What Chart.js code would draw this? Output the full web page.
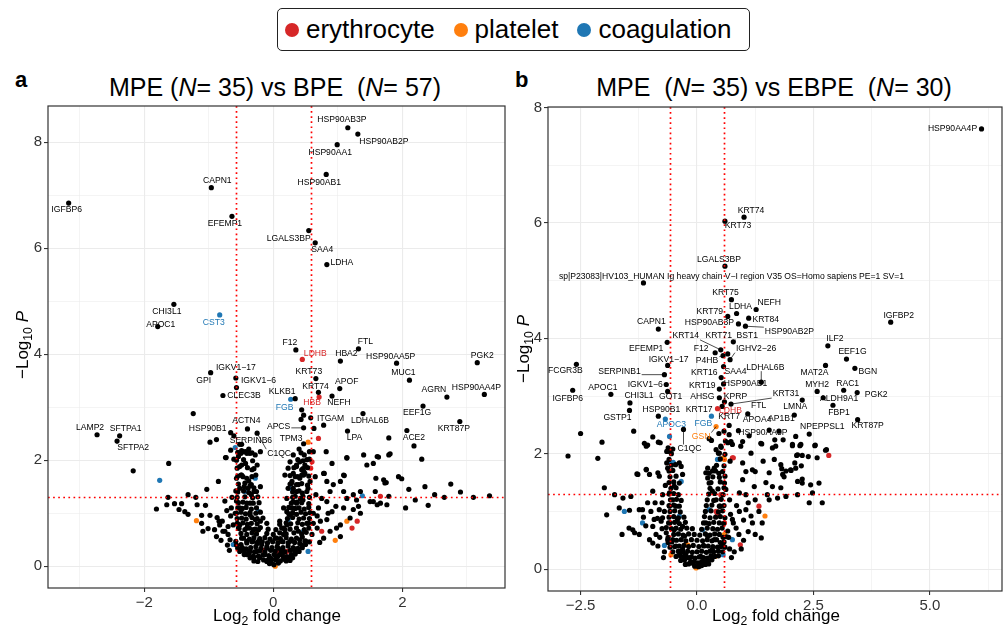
<!DOCTYPE html>
<html>
<head>
<meta charset="utf-8">
<script src="https://cdn.jsdelivr.net/npm/chart.js@4.4.1/dist/chart.umd.min.js"></script>
<style>
  body { margin: 0; background: #fff; width: 1005px; height: 633px; position: relative; overflow: hidden;
         font-family: "Liberation Sans", Arial, Helvetica, sans-serif; color: #000; }
  .panel { position: absolute; }
  .title { position: absolute; top: 75px; font-size: 25px; line-height: 25px; white-space: pre; transform: translateX(-50%); }
  .tag { position: absolute; top: 69px; font-size: 22px; line-height: 22px; font-weight: bold; }
  .xtitle { position: absolute; font-size: 17px; white-space: nowrap; transform: translate(-50%, -50%); }
  .ytitle { position: absolute; font-size: 17px; white-space: nowrap; transform: translate(-50%, -50%) rotate(-90deg); }
  sub { font-size: 0.72em; vertical-align: -0.35em; line-height: 0; }
  #legend { position: absolute; left: 277px; top: 8px; width: 473px; height: 43px; border: 1.5px solid #222;
            border-radius: 5px; display: flex; align-items: center; font-size: 26px; padding-left: 7px; box-sizing: border-box; }
  #legend .dot { width: 14px; height: 14px; border-radius: 50%; margin-right: 7px; }
  #legend .item { display: flex; align-items: center; margin-right: 19px; }
</style>
</head>
<body>
<div id="legend">
  <div class="item"><div class="dot" style="background:#d62728"></div>erythrocyte</div>
  <div class="item"><div class="dot" style="background:#ff7f0e"></div>platelet</div>
  <div class="item"><div class="dot" style="background:#1f77b4"></div>coagulation</div>
</div>

<div class="tag" style="left:15px">a</div>
<div class="tag" style="left:515px">b</div>
<div class="title" style="left:275px">MPE (<i>N</i>= 35) vs BPE  (<i>N</i>= 57)</div>
<div class="title" style="left:774px">MPE  (<i>N</i>= 35) vs EBPE  (<i>N</i>= 30)</div>

<div class="panel" style="left:0;top:95px"><canvas id="volcanoA" width="515" height="538"></canvas></div>
<div class="panel" style="left:500px;top:95px"><canvas id="volcanoB" width="505" height="538"></canvas></div>

<div class="ytitle" style="left:23px;top:345px">−Log<sub>10</sub> <i>P</i></div>
<div class="ytitle" style="left:524px;top:349px">−Log<sub>10</sub> <i>P</i></div>
<div class="xtitle" style="left:277px;top:616px">Log<sub>2</sub> fold change</div>
<div class="xtitle" style="left:776px;top:616px">Log<sub>2</sub> fold change</div>

<script>
// ---- MPE vs BPE ----
const xBreaksA = [-3, -2, -1, 0, 1, 2, 3];
const xLabelsA = ['', '−2', '', '0', '', '2', ''];
const yBreaksA = [0, 1, 2, 3, 4, 5, 6, 7, 8];
const yLabelsA = ['0', '', '2', '', '4', '', '6', '', '8'];

// named proteins: [name, log2FC, -log10 p, group]  (n = none, e = erythrocyte, p = platelet, c = coagulation)
const genesA = [
  ['HSP90AB3P', 1.155, 8.27, 'n'], ['HSP90AB2P', 1.31, 8.15, 'n'], ['HSP90AA1', 0.99, 7.95, 'n'],
  ['HSP90AB1', 0.82, 7.39, 'n'], ['CAPN1', -0.96, 7.14, 'n'], ['IGFBP6', -3.17, 6.85, 'n'],
  ['EFEMP1', -0.64, 6.60, 'n'], ['LGALS3BP', 0.55, 6.33, 'n'], ['SAA4', 0.65, 6.10, 'n'],
  ['LDHA', 0.83, 5.69, 'n'], ['CHI3L1', -1.54, 4.94, 'n'], ['CST3', -0.83, 4.74, 'c'],
  ['APOC1', -1.79, 4.52, 'n'], ['F12', 0.35, 4.08, 'n'], ['FTL', 1.32, 4.10, 'n'],
  ['LDHB', 0.45, 3.90, 'e'], ['HBA2', 1.04, 3.87, 'n'], ['HSP90AA5P', 1.91, 3.83, 'n'],
  ['PGK2', 3.16, 3.84, 'n'], ['GPI', -0.97, 3.65, 'n'], ['IGKV1−17', -0.58, 3.55, 'n'],
  ['KRT73', 0.66, 3.54, 'n'], ['MUC1', 2.11, 3.51, 'n'], ['IGKV1−6', -0.57, 3.37, 'n'],
  ['APOF', 1.03, 3.35, 'n'], ['KRT74', 0.70, 3.28, 'n'], ['HSP90AA4P', 3.27, 3.24, 'n'],
  ['CLEC3B', -0.78, 3.22, 'n'], ['NEFH', 0.91, 3.21, 'n'], ['AGRN', 2.69, 3.19, 'n'],
  ['HBB', 0.71, 3.19, 'e'], ['KLKB1', 0.34, 3.16, 'n'], ['FGB', 0.27, 3.15, 'c'],
  ['EEF1G', 2.32, 3.02, 'n'], ['LDHAL6B', 1.39, 2.88, 'n'], ['KRT87P', 2.89, 2.73, 'n'],
  ['ITGAM', 0.78, 2.66, 'n'], ['APCS', 0.47, 2.61, 'n'], ['ACTN4', -0.40, 2.59, 'n'],
  ['ACE2', 2.07, 2.56, 'n'], ['LPA', 1.15, 2.55, 'n'], ['HSP90B1', -0.66, 2.52, 'n'],
  ['C1QC', -0.25, 2.51, 'n'], ['LAMP2', -2.73, 2.48, 'n'], ['SFTPA1', -2.38, 2.46, 'n'],
  ['SERPINB6', -0.61, 2.46, 'n'], ['SFTPA2', -2.42, 2.36, 'n'], ['TPM3', 0.40, 2.21, 'n']
];

const otherA = [
  [-1.62,1.94],[-1.81,1.08],[-1.63,1.30],[-1.65,1.16],[-1.53,1.18],[-1.42,1.18],[-1.46,1.07],[-1.32,1.35],
  [-1.32,0.98],[-1.37,1.03],[-1.03,1.45],[-1.20,1.30],[-1.18,1.16],[-1.05,1.15],[-1.11,0.96],[-0.85,1.60],
  [-0.98,0.96],[-0.87,0.92],[-0.84,0.85],[-0.73,2.05],[-0.83,0.78],[-1.11,0.81],[-1.09,0.66],[-1.01,0.71],
  [-0.91,0.69],[-0.79,0.85],[-0.88,0.56],[-0.81,0.49],[-0.75,0.66],[-0.70,0.60],[-0.71,0.40],[-0.67,0.50],
  [-0.70,0.75],[-0.75,1.23],[-0.57,1.23],[-0.65,1.10],[-0.59,1.00],[-0.56,0.81],[-0.54,0.72],[-0.62,0.78],
  [-1.24,2.88],[-0.88,2.39],[-0.98,2.34],[-0.66,2.19],[-0.74,2.05],[-2.17,1.80],
  [-0.54,2.07],[-0.52,1.88],[-0.47,2.16],[-0.41,2.13],[-0.36,2.13],[-0.28,2.10],[-0.49,1.72],[-0.41,1.66],
  [-0.52,1.47],[-0.39,1.47],[-0.34,1.35],[-0.26,1.41],[-0.41,1.19],[-0.31,1.19],[-0.52,1.10],[-0.36,0.97],
  [-0.28,0.88],[-0.20,0.85],[-0.52,0.78],[-0.41,0.72],[-0.31,0.69],[-0.23,0.69],[-0.49,0.53],[-0.41,0.47],
  [-0.31,0.47],[-0.23,0.47],[-0.18,0.41],[-0.10,0.34],[-0.13,0.22],[-0.05,0.16],[-0.03,0.06],[-0.36,0.28],
  [-0.26,0.28],[-0.21,0.16],[-0.10,0.09],[-0.41,0.22],[-0.31,0.19],
  [0.05,0.16],[0.10,0.22],[0.08,0.34],[0.13,0.47],[0.16,0.60],[0.18,0.69],[0.21,0.78],[0.26,0.97],
  [0.29,1.10],[0.21,1.03],[0.31,1.22],[0.34,1.32],[0.36,1.41],[0.39,1.54],[0.41,1.66],[0.44,1.72],
  [0.47,1.79],[0.49,1.91],[0.52,2.01],[0.48,2.10],[0.21,1.28],[0.16,1.10],[0.23,1.47],[0.29,1.60],
  [0.31,1.75],[0.36,1.88],[0.41,1.97],[0.23,1.85],[0.18,1.72],[0.10,0.85],[0.05,0.53],[0.13,0.72],
  [0.26,0.47],[0.31,0.34],[0.36,0.28],[0.52,0.81],[0.39,0.66],[0.41,0.50],[0.49,0.47],[0.46,1.25],
  [0.36,1.19],[0.54,1.47],[0.57,1.60],[0.62,2.16],[0.65,1.69],[0.62,1.00],[0.62,0.81],[0.60,0.60],
  [0.78,1.75],[0.91,1.94],[0.83,1.60],[0.93,1.54],[1.04,1.60],[1.09,1.72],[1.14,2.04],[0.88,1.41],
  [1.09,1.41],[1.24,1.35],[1.35,1.41],[1.45,1.91],[1.55,1.94],[1.63,2.06],[1.79,2.10],[1.59,1.66],
  [1.71,1.63],[1.73,1.57],[1.58,1.41],[1.79,1.32],[1.50,1.22],[1.55,1.22],[1.61,1.16],[1.66,1.19],
  [1.76,1.16],[1.32,1.13],[1.35,1.00],[1.24,1.07],[1.29,1.25],[1.19,0.91],[1.04,0.78],[0.88,0.66],
  [0.98,0.72],[1.04,0.56],[0.73,0.85],[0.83,0.88],[0.78,0.53],[0.91,1.03],[1.09,1.10],[1.14,1.28],
  [0.75,1.28],[0.83,1.22],[0.97,1.13],
  [-0.49,2.18],[-0.50,2.13],[-0.38,2.14],[-0.33,2.14],[-0.20,2.16],[-0.49,1.91],[-0.43,1.94],[-0.33,1.82],
  [-0.25,1.91],[-0.47,1.69],[-0.38,1.61],[-0.27,1.72],[-0.45,1.50],[-0.36,1.52],[-0.30,1.48],[-0.20,1.50],
  [-0.57,1.66],[0.44,2.95],[0.47,2.85],[0.43,2.77],[0.58,2.80],[0.63,2.60],[0.31,2.10],[0.26,1.97],
  [0.36,1.91],[0.44,1.82],[0.49,1.75],[0.34,1.69],[0.26,1.55],[0.31,1.47],
  [1.79,2.42],[2.18,2.27],[2.30,2.02],[1.81,2.12],[1.94,1.69],[1.99,1.65],[1.75,1.58],[0.82,2.16],
  [1.14,2.05],[1.40,2.10],[1.61,2.07],[0.79,1.75],[1.10,1.71],[2.10,1.45],[2.35,1.50],[2.50,1.35],
  [2.20,1.25],[2.65,1.30],[2.05,1.10],[2.40,1.15],[2.90,1.40],[3.10,1.30],[3.35,1.33],[2.75,1.55],
  [-0.49,2.30],[-0.38,2.21],[-0.61,2.02],[-0.58,1.42]
];
// dense centre of the cloud
const coreA = [
  [-0.06,0.05],[0.01,0.03],[0.08,0.06],
  [-0.15,0.12],[-0.09,0.11],[-0.02,0.13],[0.04,0.12],[0.11,0.10],[0.17,0.13],
  [-0.23,0.19],[-0.16,0.21],[-0.07,0.20],[0.01,0.22],[0.07,0.19],[0.14,0.21],[0.21,0.18],
  [-0.29,0.27],[-0.21,0.29],[-0.13,0.27],[-0.04,0.30],[0.03,0.28],[0.12,0.29],[0.18,0.27],[0.26,0.30],
  [-0.35,0.35],[-0.27,0.37],[-0.19,0.34],[-0.10,0.37],[-0.02,0.35],[0.06,0.37],[0.15,0.35],[0.23,0.38],[0.31,0.35],
  [-0.41,0.44],[-0.33,0.46],[-0.25,0.43],[-0.17,0.46],[-0.09,0.44],[-0.01,0.46],[0.07,0.44],[0.15,0.46],
  [0.23,0.44],[0.33,0.45],[0.41,0.43],
  [-0.46,0.53],[-0.37,0.51],[-0.30,0.54],[-0.21,0.52],[-0.13,0.54],[-0.05,0.51],[0.03,0.53],[0.11,0.52],
  [0.20,0.54],[0.28,0.51],[0.36,0.53],[0.45,0.55],
  [-0.50,0.62],[-0.41,0.60],[-0.33,0.63],[-0.26,0.61],[-0.10,0.62],[0.00,0.60],[0.10,0.63],[0.20,0.61],
  [0.32,0.63],[0.44,0.61],[0.51,0.64],
  [-0.53,0.71],[-0.44,0.69],[-0.37,0.72],[-0.28,0.70],[-0.20,0.73],[-0.08,0.70],[0.04,0.69],[0.16,0.72],
  [0.26,0.70],[0.36,0.72],[0.48,0.69],[0.55,0.72],
  [-0.55,0.80],[-0.47,0.82],[-0.40,0.79],[-0.34,0.81],[-0.25,0.80],[-0.10,0.81],[0.10,0.79],[0.20,0.82],
  [0.27,0.80],[0.38,0.82],[0.45,0.79],[0.55,0.81],
  [-0.56,0.90],[-0.49,0.91],[-0.42,0.89],[-0.33,0.92],[-0.25,0.90],[-0.16,0.91],[0.22,0.90],[0.30,0.92],
  [0.40,0.89],[0.47,0.91],[0.56,0.90],
  [-0.57,1.00],[-0.50,1.02],[-0.43,0.99],[-0.36,1.01],[-0.27,1.00],[-0.20,1.02],[0.24,0.99],[0.30,1.01],
  [0.36,0.98],[0.43,1.02],[0.50,0.99],[0.57,1.01],
  [-0.55,1.10],[-0.48,1.09],[-0.42,1.11],[-0.34,1.08],[-0.26,1.10],[0.24,1.11],[0.34,1.09],[0.40,1.10],
  [0.48,1.08],[0.55,1.11],
  [-0.54,1.20],[-0.47,1.21],[-0.36,1.19],[-0.22,1.20],[0.28,1.19],[0.37,1.21],[0.44,1.20],[0.55,1.18],
  [-0.56,1.30],[-0.44,1.31],[-0.32,1.29],[-0.24,1.31],[0.30,1.30],[0.42,1.28],[0.46,1.32],[0.56,1.30],
  [-0.55,1.40],[-0.46,1.42],[-0.38,1.39],[-0.30,1.41],[0.30,1.40],[0.40,1.42],[0.45,1.38],[0.52,1.41],
  [-0.54,1.55],[-0.44,1.57],[-0.34,1.54],[0.28,1.56],[0.36,1.54],[0.44,1.56],[0.53,1.53],
  [-0.55,1.70],[-0.50,1.72],[-0.33,1.69],[0.26,1.71],[0.38,1.69],[0.47,1.72],[0.55,1.70],
  [-0.56,1.85],[-0.40,1.86],[-0.30,1.84],[0.32,1.86],[0.46,1.84],[0.53,1.86],
  [-0.57,2.00],[-0.46,2.01],[-0.32,1.99],[0.38,2.01],[0.46,1.99],[0.56,2.02],
  [-0.55,2.15],[-0.43,2.16],[0.43,2.14],[0.56,2.16],
  [-0.52,2.30],[0.47,2.31],
  [-0.66,0.95],[-0.72,1.05],[-0.64,1.30],[-0.68,0.30],[-0.78,0.66],[0.68,0.72],[0.70,1.10],[0.66,1.35],
  [0.72,0.45],[0.85,1.00],[0.68,0.95],
  [-0.30,0.10],[-0.24,0.09],[0.20,0.10],[0.26,0.11],
  [-0.36,0.16],[-0.30,0.17],[0.16,0.16],[0.24,0.17],[0.30,0.16],
  [-0.45,0.22],[-0.38,0.23],[0.28,0.22],[0.34,0.23],
  [-0.52,0.28],[-0.45,0.29],[-0.38,0.28],[0.33,0.29],[0.40,0.28],
  [-0.55,0.34],[-0.48,0.35],[-0.42,0.33],[0.38,0.34],[0.45,0.35],
  [-0.57,0.40],[-0.50,0.41],[0.44,0.40],[0.50,0.41],
  [-0.58,0.47],[0.50,0.48],[0.56,0.46]
];
const eryA = [[0.21,0.28],[0.05,0.28],[0.58,1.85],[0.60,1.97],[1.66,1.32],[1.30,0.85],[1.22,0.72],
  [0.75,0.66],[0.70,2.41],[-0.15,0.30],[0.15,0.20]];
const pltA = [[-1.19,0.86],[-0.26,0.66],[0.03,0.00],[0.10,0.47],[0.54,2.34],[1.14,0.85],[0.96,0.49]];
const coagA = [[-1.76,1.62],[-0.62,0.41],[-0.28,1.66],[-0.44,1.41],[-0.23,1.03],[0.23,0.88],[0.47,0.66],
  [0.54,0.28],[1.38,1.33],[-0.59,2.24],[0.26,1.47]];

// ---- MPE vs EBPE ----
const xBreaksB = [-2.5, -1.25, 0, 1.25, 2.5, 3.75, 5, 6.25];
const xLabelsB = ['−2.5', '', '0.0', '', '2.5', '', '5.0', ''];
const yBreaksB = [0, 1, 2, 3, 4, 5, 6, 7, 8];
const yLabelsB = ['0', '', '2', '', '4', '', '6', '', '8'];

const genesB = [
  ['HSP90AA4P', 6.11, 7.63, 'n'], ['KRT74', 1.01, 6.10, 'n'], ['KRT73', 0.60, 6.03, 'n'],
  ['LGALS3BP', 0.60, 5.25, 'n'],
  ['sp|P23083|HV103_HUMAN Ig heavy chain V−I region V35 OS=Homo sapiens PE=1 SV=1', -1.15, 4.96, 'n'],
  ['KRT75', 0.74, 4.67, 'n'], ['NEFH', 1.27, 4.50, 'n'], ['LDHA', 0.85, 4.43, 'n'],
  ['KRT79', 0.66, 4.38, 'n'], ['KRT84', 1.11, 4.35, 'n'], ['HSP90AB3P', 0.89, 4.25, 'n'],
  ['HSP90AB2P', 1.04, 4.21, 'n'], ['CAPN1', -0.83, 4.16, 'n'], ['EFEMP1', -0.64, 3.93, 'n'],
  ['BST1', 0.78, 3.94, 'n'], ['KRT14', 0.51, 3.80, 'n'], ['F12', 0.39, 3.75, 'n'],
  ['KRT71', 0.66, 3.73, 'n'], ['P4HB', 0.56, 3.70, 'n'], ['IGHV2−26', 0.71, 3.63, 'n'],
  ['FCGR3B', -2.59, 3.55, 'n'], ['IGKV1−17', -0.63, 3.53, 'n'], ['SAA4', 0.57, 3.51, 'n'],
  ['SERPINB1', -0.70, 3.37, 'n'], ['KRT16', 0.52, 3.32, 'n'], ['LDHAL6B', 1.38, 3.24, 'n'],
  ['HSP90AB1', 0.57, 3.21, 'n'], ['IGKV1−6', -0.66, 3.20, 'n'], ['KRT19', 0.48, 3.12, 'n'],
  ['IGFBP6', -2.67, 3.10, 'n'], ['GOT1', -0.63, 3.08, 'n'], ['APOC1', -1.85, 3.03, 'n'],
  ['AHSG', 0.48, 2.97, 'n'], ['KPRP', 0.59, 2.90, 'n'], ['CHI3L1', -1.44, 2.88, 'n'],
  ['KRT31', 0.73, 2.86, 'n'], ['KRT17', 0.54, 2.82, 'n'], ['LDHB', 0.44, 2.78, 'e'],
  ['GSTP1', -1.45, 2.75, 'n'], ['FTL', 1.09, 2.69, 'n'], ['HSP90B1', -0.83, 2.65, 'n'],
  ['FGB', 0.31, 2.65, 'c'], ['APOC3', -0.68, 2.60, 'c'], ['KRT7', 0.69, 2.49, 'n'],
  ['GSN', 0.41, 2.47, 'p'], ['C1QC', -0.29, 2.42, 'n'], ['APOA4', 1.55, 2.41, 'n'],
  ['HSP90AA5P', 1.76, 2.39, 'n'], ['LMNA', 2.26, 2.93, 'n'], ['AP1B1', 2.09, 2.67, 'n'],
  ['NPEPPSL1', 2.41, 2.34, 'n'], ['KRT87P', 3.45, 2.59, 'n'], ['FBP1', 2.92, 2.84, 'n'],
  ['ALDH9A1', 2.71, 2.97, 'n'], ['MYH2', 2.58, 3.08, 'n'], ['RAC1', 3.15, 3.10, 'n'],
  ['PGK2', 3.44, 3.06, 'n'], ['BGN', 3.39, 3.48, 'n'], ['MAT2A', 2.76, 3.53, 'n'],
  ['EEF1G', 3.21, 3.64, 'n'], ['ILF2', 2.81, 3.87, 'n'], ['IGFBP2', 4.16, 4.28, 'n']
];

const otherB = [
  [-2.04,2.20],[-1.09,2.13],[-0.79,2.19],[-0.59,2.04],[-0.38,1.84],[-0.63,1.75],[-0.84,1.67],[-0.81,1.61],
  [-1.02,1.64],[-1.09,1.72],[-1.27,1.64],[-0.49,1.44],[-0.59,1.32],[-0.74,1.29],[-0.95,1.35],[-1.06,1.15],
  [-1.24,1.03],[-1.42,1.26],[-1.59,1.23],[-1.77,1.29],[-1.99,1.41],[-1.94,0.94],[-1.67,1.06],[-1.45,1.02],
  [-1.46,0.71],[-1.38,0.68],[-1.17,1.03],[-0.99,1.00],[-0.92,0.86],[-0.81,1.03],[-0.77,0.83],[-0.74,0.89],
  [-0.88,0.60],[-1.02,0.51],[-1.24,0.60],[-1.34,0.63],[-1.61,0.60],[-0.95,0.74],[-0.66,0.63],[-0.84,0.40],
  [-0.52,0.51],[-0.45,1.09],[-0.52,1.20],[-0.42,0.86],[-0.31,0.74],[-0.27,0.57],[-0.31,0.34],[-0.16,0.19],
  [-0.09,0.10],[-0.59,1.09],[-0.61,0.80],[-0.49,0.68],[-0.63,0.51],[-0.45,0.40],[-0.38,0.28],[-0.24,0.25],
  [-0.27,0.16],
  [0.05,0.05],[0.12,0.10],[0.08,0.22],[0.15,0.40],[0.19,0.80],[0.23,0.57],[0.33,0.34],[0.37,0.51],
  [0.48,1.09],[0.41,1.20],[0.33,1.35],[0.26,1.49],[0.23,1.58],[0.19,1.67],[0.33,1.70],[0.37,1.75],
  [0.48,2.01],[0.41,2.07],[0.51,2.13],[0.66,2.19],[0.76,2.16],[0.73,2.21],[0.59,1.49],[0.62,1.38],
  [0.55,0.42],[0.84,0.71],[0.76,0.86],[0.91,1.00],[1.05,1.03],[1.19,0.80],[1.16,0.92],[1.33,1.00],
  [1.38,0.54],[0.98,1.55],[1.19,1.72],[1.23,1.43],[1.48,1.50],[1.62,1.43],[1.84,1.64],[1.91,1.70],
  [2.01,1.72],[2.12,1.75],[2.16,1.52],[2.26,1.49],[2.44,1.46],[2.48,1.32],[2.41,1.15],[2.16,1.29],
  [1.91,1.26],[1.73,1.23],[1.55,1.20],[1.51,1.29],[1.80,1.41],[1.05,1.29],[0.91,1.32],[0.98,1.84],
  [1.16,2.01],[0.94,2.13],[1.39,2.17],[1.69,2.13],[2.05,2.16],[2.23,2.16],[2.16,1.98],[2.26,1.97],
  [2.39,1.95],[2.58,1.93],[2.54,2.15],[2.78,2.07],[2.62,1.49],[2.69,1.15],[1.80,1.81],
  [-2.50,2.35],[-2.77,1.96],[-2.13,1.92],[-1.36,2.39],[-1.13,2.18],[-1.06,2.15],[-0.95,2.29],[-0.83,2.20],
  [-0.65,2.04],[-0.52,2.08],[-1.29,1.65],[-1.09,1.73],[-0.34,1.78],[-0.31,1.64],[-0.65,1.84],[0.26,2.26],
  [0.31,2.23],[0.47,2.35],[0.58,2.39],[0.61,2.22],[0.69,2.33],[0.72,2.20],[0.71,1.87],[0.89,2.40],
  [0.98,2.21],[1.12,2.31],[1.37,2.18],[1.42,1.87],[1.62,2.10],[1.66,1.90],[1.25,1.69],[1.05,1.69],
  [1.55,1.67],[0.23,1.75],[0.26,1.66],[0.47,1.66],
  [1.67,2.24],[1.85,2.24],[2.12,2.30],[2.05,2.14],[2.21,2.14],[2.53,2.14],[2.76,2.06],[2.14,1.97],
  [2.10,1.84],[2.24,1.79],[1.82,1.74],[2.02,1.71],[1.87,1.60],[2.26,1.56]
];
// dense centre of the cloud
const coreB = [
  [-0.05,0.05],[0.03,0.04],[0.10,0.06],
  [-0.14,0.12],[-0.06,0.13],[0.02,0.11],[0.10,0.13],[0.17,0.12],
  [-0.20,0.20],[-0.12,0.21],[-0.04,0.19],[0.05,0.21],[0.14,0.20],[0.22,0.19],
  [-0.30,0.30],[-0.20,0.31],[-0.10,0.29],[0.00,0.30],[0.10,0.31],[0.20,0.29],[0.28,0.31],
  [-0.38,0.40],[-0.28,0.41],[-0.18,0.39],[-0.08,0.41],[0.04,0.39],[0.14,0.41],[0.24,0.40],[0.34,0.39],
  [-0.44,0.50],[-0.34,0.51],[-0.24,0.49],[-0.12,0.51],[0.00,0.50],[0.12,0.49],[0.22,0.51],[0.32,0.49],[0.42,0.51],
  [-0.50,0.60],[-0.40,0.61],[-0.30,0.59],[-0.18,0.61],[-0.06,0.60],[0.06,0.59],[0.18,0.61],[0.28,0.59],
  [0.38,0.61],[0.48,0.60],
  [-0.55,0.70],[-0.45,0.71],[-0.35,0.69],[-0.22,0.71],[-0.10,0.70],[0.10,0.69],[0.22,0.71],[0.34,0.70],
  [0.44,0.69],[0.54,0.71],
  [-0.58,0.80],[-0.48,0.81],[-0.38,0.79],[-0.25,0.81],[0.14,0.80],[0.26,0.79],[0.36,0.81],[0.48,0.80],[0.57,0.79],
  [-0.60,0.90],[-0.50,0.91],[-0.40,0.89],[-0.28,0.90],[0.16,0.91],[0.28,0.89],[0.40,0.90],[0.50,0.91],[0.60,0.89],
  [-0.58,1.00],[-0.48,1.01],[-0.36,0.99],[0.18,1.00],[0.30,1.01],[0.46,0.99],[0.55,1.01],
  [-0.60,1.10],[-0.50,1.11],[-0.38,1.09],[0.20,1.10],[0.32,1.11],[0.50,1.09],[0.58,1.10],
  [-0.57,1.20],[-0.44,1.21],[-0.34,1.19],[0.22,1.20],[0.36,1.19],[0.52,1.21],
  [-0.60,1.30],[-0.50,1.31],[-0.40,1.29],[0.25,1.30],[0.38,1.31],[0.56,1.29],
  [-0.56,1.40],[-0.45,1.41],[0.28,1.40],[0.45,1.39],[0.58,1.41],
  [-0.60,1.50],[-0.50,1.51],[-0.38,1.49],[0.30,1.50],[0.50,1.51],
  [-0.58,1.60],[-0.45,1.61],[0.34,1.60],[0.48,1.59],[0.60,1.61],
  [-0.60,1.70],[-0.52,1.71],[0.40,1.70],[0.55,1.69],
  [-0.55,1.80],[-0.46,1.81],[0.42,1.80],[0.58,1.79],
  [-0.60,1.90],[0.50,1.91],
  [-0.55,2.00],[0.46,2.01],[0.60,1.99],
  [-0.62,2.10],[0.52,2.11],
  [0.70,0.35],[0.80,0.30],[0.68,0.55],[0.90,0.60],[1.00,0.50],[0.72,0.95],[1.10,0.65],[1.25,0.60],
  [1.00,0.85],[0.85,1.10],[0.70,1.20],[1.25,1.20],[1.40,0.80],[1.10,1.15],
  [-0.70,0.30],[-0.80,0.55],[-0.95,0.45],[-0.75,0.70],[-1.10,0.75],[-0.70,1.00],[-0.90,1.15],
  [-1.15,0.90],[-0.68,1.45],[-0.75,1.15],
  [-0.25,0.08],[-0.18,0.09],[0.18,0.08],[0.25,0.09],
  [-0.35,0.15],[-0.27,0.16],[0.24,0.15],[0.32,0.16],
  [-0.45,0.22],[-0.36,0.23],[-0.28,0.22],[0.30,0.23],[0.38,0.22],[0.46,0.23],
  [-0.52,0.30],[-0.40,0.31],[0.36,0.30],[0.46,0.31],[0.55,0.30],
  [-0.58,0.38],[-0.48,0.39],[0.44,0.38],[0.52,0.39],[0.60,0.38],
  [-0.62,0.46],[-0.54,0.47],[0.50,0.46],[0.58,0.47],
  [-0.62,0.55],[0.56,0.55],[0.64,0.56],
  [0.66,0.66],[0.78,0.80],[0.95,0.35],[0.74,0.20],[-0.72,0.20],[-0.66,0.72],[-0.85,0.88]
];
const eryB = [[0.41,1.00],[0.44,0.94],[0.78,1.93],[0.51,1.29],[0.59,0.80],[0.93,0.42],[1.33,1.09],
  [2.83,1.97],[0.76,1.93]];
const pltB = [[-0.56,0.25],[-0.20,0.42],[-0.02,0.02],[0.59,1.90],[0.59,0.60],[0.39,0.22],[1.46,0.92],[0.57,1.93]];
const coagB = [[-0.56,1.84],[-0.51,1.85],[-0.34,1.52],[-1.56,1.00],[-1.17,0.80],[-0.70,0.41],[-0.38,0.92],
  [0.12,0.68],[0.26,1.03],[0.44,1.90],[0.56,0.25],[0.76,0.51],[-0.59,2.30],[0.47,1.90]];

// thresholds: 1.5-fold change and p = 0.05
const fcCut = Math.log2(1.5);
const pCut = -Math.log10(0.05);

const groupColor = { n: '#000000', e: '#d62728', p: '#ff7f0e', c: '#1f77b4' };

// label placement (pixel nudges from the point; third entry draws a segment)
const nudgeA = {
  'HSP90AB3P': [-6, -8], 'HSP90AB2P': [26, 8], 'HSP90AA1': [-7, 8], 'HSP90AB1': [-7, 8],
  'CAPN1': [6, -7], 'IGFBP6': [-2, 7], 'EFEMP1': [-7, 7], 'LGALS3BP': [-20, 8], 'SAA4': [7, 7],
  'LDHA': [15, -2], 'CHI3L1': [-7, 7], 'CST3': [-6, 8], 'APOC1': [3, -2], 'F12': [-6, -7],
  'FTL': [7, -7], 'LDHB': [13, -6], 'HBA2': [6, -7], 'HSP90AA5P': [-6, -7], 'PGK2': [5, -7],
  'GPI': [-7, 8], 'IGKV1−17': [0, -10], 'KRT73': [-7, -7], 'MUC1': [-6, -8], 'IGKV1−6': [22, -7],
  'APOF': [7, -7], 'KRT74': [-3, -6], 'HSP90AA4P': [-8, -7], 'CLEC3B': [21, 0], 'NEFH': [7, 7],
  'AGRN': [-13, -7], 'HBB': [-7, 6], 'KLKB1': [-13, -7], 'FGB': [-6, 8], 'EEF1G': [-6, 7],
  'LDHAL6B': [7, 7], 'KRT87P': [-6, 7], 'ITGAM': [7, -7], 'APCS': [-25, -1, 1], 'ACTN4': [-1, -8],
  'ACE2': [7, 7], 'LPA': [7, 7], 'HSP90B1': [-23, -4], 'C1QC': [22, 20, 1], 'LAMP2': [-7, -7],
  'SFTPA1': [6, -7], 'SERPINB6': [17, 5], 'SFTPA2': [16, 7, 1], 'TPM3': [-8, -10]
};
const nudgeB = {
  'HSP90AA4P': [-29, 0], 'KRT74': [7, -7], 'KRT73': [13, 4], 'LGALS3BP': [-6, -7],
  'sp|P23083|HV103_HUMAN Ig heavy chain V−I region V35 OS=Homo sapiens PE=1 SV=1': [88, -6],
  'KRT75': [-6, -7], 'NEFH': [13, -7], 'LDHA': [4, -7], 'KRT79': [-18, -5], 'KRT84': [17, 1],
  'HSP90AB3P': [-29, -1], 'HSP90AB2P': [44, 5, 1], 'CAPN1': [-7, -7], 'EFEMP1': [-21, 6],
  'BST1': [14, -6, 1], 'KRT14': [-35, -14, 1], 'F12': [-14, -4], 'KRT71': [-9, -18],
  'P4HB': [-16, 5, 1], 'IGHV2−26': [26, -11, 1], 'FCGR3B': [-11, 6], 'IGKV1−17': [1, -6],
  'SAA4': [12, 5], 'SERPINB1': [-45, -3, 1], 'KRT16': [-17, -5], 'LDHAL6B': [4, -15, 1],
  'HSP90AB1': [22, 0], 'IGKV1−6': [-21, 0], 'KRT19': [-17, -3], 'IGFBP6': [-5, 8], 'GOT1': [3, 5],
  'APOC1': [-8, -7], 'AHSG': [-17, -1], 'KPRP': [11, -5], 'CHI3L1': [9, -7], 'KRT31': [55, -10, 1],
  'KRT17': [-23, 3], 'LDHB': [13, 2], 'GSTP1': [-12, 7], 'FTL': [11, -8], 'HSP90B1': [3, -7],
  'FGB': [-8, 7], 'APOC3': [6, 6], 'KRT7': [0, -9], 'GSN': [-15, 10, 1], 'C1QC': [6, 19, 1],
  'APOA4': [-12, -10], 'HSP90AA5P': [-16, 1], 'LMNA': [-7, 7], 'AP1B1': [-13, 4],
  'NPEPPSL1': [13, -7], 'KRT87P': [10, 6], 'FBP1': [6, 7], 'ALDH9A1': [16, 1], 'MYH2': [0, -7],
  'RAC1': [4, -7], 'PGK2': [19, 2], 'BGN': [13, 3], 'MAT2A': [-11, 7], 'EEF1G': [6, -7],
  'ILF2': [7, -7], 'IGFBP2': [8, -7]
};

const toPts = arr => arr.map(([x, y]) => ({ x, y }));
const pick = (genes, g) => genes.filter(r => r[3] === g).map(r => ({ x: r[1], y: r[2] }));

function pointSet(data, color) {
  return { data, backgroundColor: color, borderWidth: 0, pointRadius: 2.6, pointHoverRadius: 2.6 };
}

// threshold lines, gene labels and the panel frame
const volcanoDecor = {
  id: 'volcanoDecor',
  afterDatasetsDraw(chart, args, opts) {
    const { ctx, chartArea: a, scales: { x, y } } = chart;
    ctx.save();
    ctx.beginPath();
    ctx.rect(a.left, a.top, a.right - a.left, a.bottom - a.top);
    ctx.clip();

    ctx.strokeStyle = '#ff0000';
    ctx.lineWidth = 1.7;
    ctx.setLineDash([1.7, 3.4]);
    [-fcCut, fcCut].forEach(v => {
      const px = Math.round(x.getPixelForValue(v)) + 0.5;
      ctx.beginPath(); ctx.moveTo(px, a.top); ctx.lineTo(px, a.bottom); ctx.stroke();
    });
    const py = Math.round(y.getPixelForValue(pCut)) + 0.5;
    ctx.beginPath(); ctx.moveTo(a.left, py); ctx.lineTo(a.right, py); ctx.stroke();
    ctx.setLineDash([]);

    ctx.font = '8.6px "Liberation Sans", Arial, sans-serif';
    ctx.textAlign = 'center';
    ctx.textBaseline = 'middle';
    opts.genes.forEach(([name, gx, gy, grp]) => {
      const n = opts.nudge[name] || [0, -8];
      const px = x.getPixelForValue(gx), ppy = y.getPixelForValue(gy);
      const lx = px + n[0], ly = ppy + n[1];
      if (n[2]) {
        const w = ctx.measureText(name).width / 2 + 1;
        const tx = Math.min(Math.max(px, lx - w), lx + w);
        const ty = Math.min(Math.max(ppy, ly - 4), ly + 4);
        ctx.strokeStyle = '#000';
        ctx.lineWidth = 0.7;
        ctx.beginPath(); ctx.moveTo(px, ppy); ctx.lineTo(tx, ty); ctx.stroke();
      }
      ctx.fillStyle = groupColor[grp];
      ctx.fillText(name, lx, ly);
    });
    ctx.restore();
  },
  afterDraw(chart) {
    const { ctx, chartArea: a } = chart;
    ctx.save();
    ctx.strokeStyle = '#333333';
    ctx.lineWidth = 1.2;
    ctx.strokeRect(a.left, a.top, a.right - a.left, a.bottom - a.top);
    ctx.restore();
  }
};

function axis(min, max, breaks, labels, fitKey, fitSize) {
  const major = i => labels[i] !== '';
  return {
    type: 'linear', min, max,
    afterBuildTicks: s => { s.ticks = breaks.map(v => ({ value: v })); },
    afterFit: s => { s[fitKey] = fitSize; },
    ticks: {
      autoSkip: false, maxRotation: 0, padding: 2, color: '#333',
      font: { family: '"Liberation Sans", Arial, sans-serif', size: 15 },
      callback: (v, i) => labels[i]
    },
    grid: {
      color: '#ebebeb',
      lineWidth: c => (major(c.index) ? 1.1 : 0.55),
      tickColor: c => (major(c.index) ? '#333' : 'rgba(0,0,0,0)'),
      tickLength: 4, tickWidth: 1.1
    },
    border: { display: false }
  };
}

function volcano(id, genes, other, core, ery, plt, coag, nudge, xr, yr, xb, xl, yb, yl, pad, xh) {
  return new Chart(document.getElementById(id), {
    type: 'scatter',
    data: {
      datasets: [
        pointSet(toPts(other).concat(toPts(core), pick(genes, 'n')), '#000000'),
        pointSet(toPts(ery).concat(pick(genes, 'e')), '#d62728'),
        pointSet(toPts(plt).concat(pick(genes, 'p')), '#ff7f0e'),
        pointSet(toPts(coag).concat(pick(genes, 'c')), '#1f77b4')
      ]
    },
    options: {
      responsive: false, animation: false, events: [],
      layout: { padding: { left: 0, top: pad.top, right: pad.right, bottom: 0 } },
      plugins: { legend: { display: false }, tooltip: { enabled: false }, volcanoDecor: { genes, nudge } },
      scales: {
        x: axis(xr[0], xr[1], xb, xl, 'height', xh),
        y: axis(yr[0], yr[1], yb, yl, 'width', 48)
      }
    },
    plugins: [volcanoDecor]
  });
}

volcano('volcanoA', genesA, otherA, coreA, eryA, pltA, coagA, nudgeA,
  [-3.49, 3.59], [-0.41, 8.68], xBreaksA, xLabelsA, yBreaksA, yLabelsA, { top: 8, right: 10 }, 45);
volcano('volcanoB', genesB, otherB, coreB, eryB, pltB, coagB, nudgeB,
  [-3.20, 6.55], [-0.38, 8.01], xBreaksB, xLabelsB, yBreaksB, yLabelsB, { top: 12, right: 3 }, 42);
</script>
</body>
</html>
